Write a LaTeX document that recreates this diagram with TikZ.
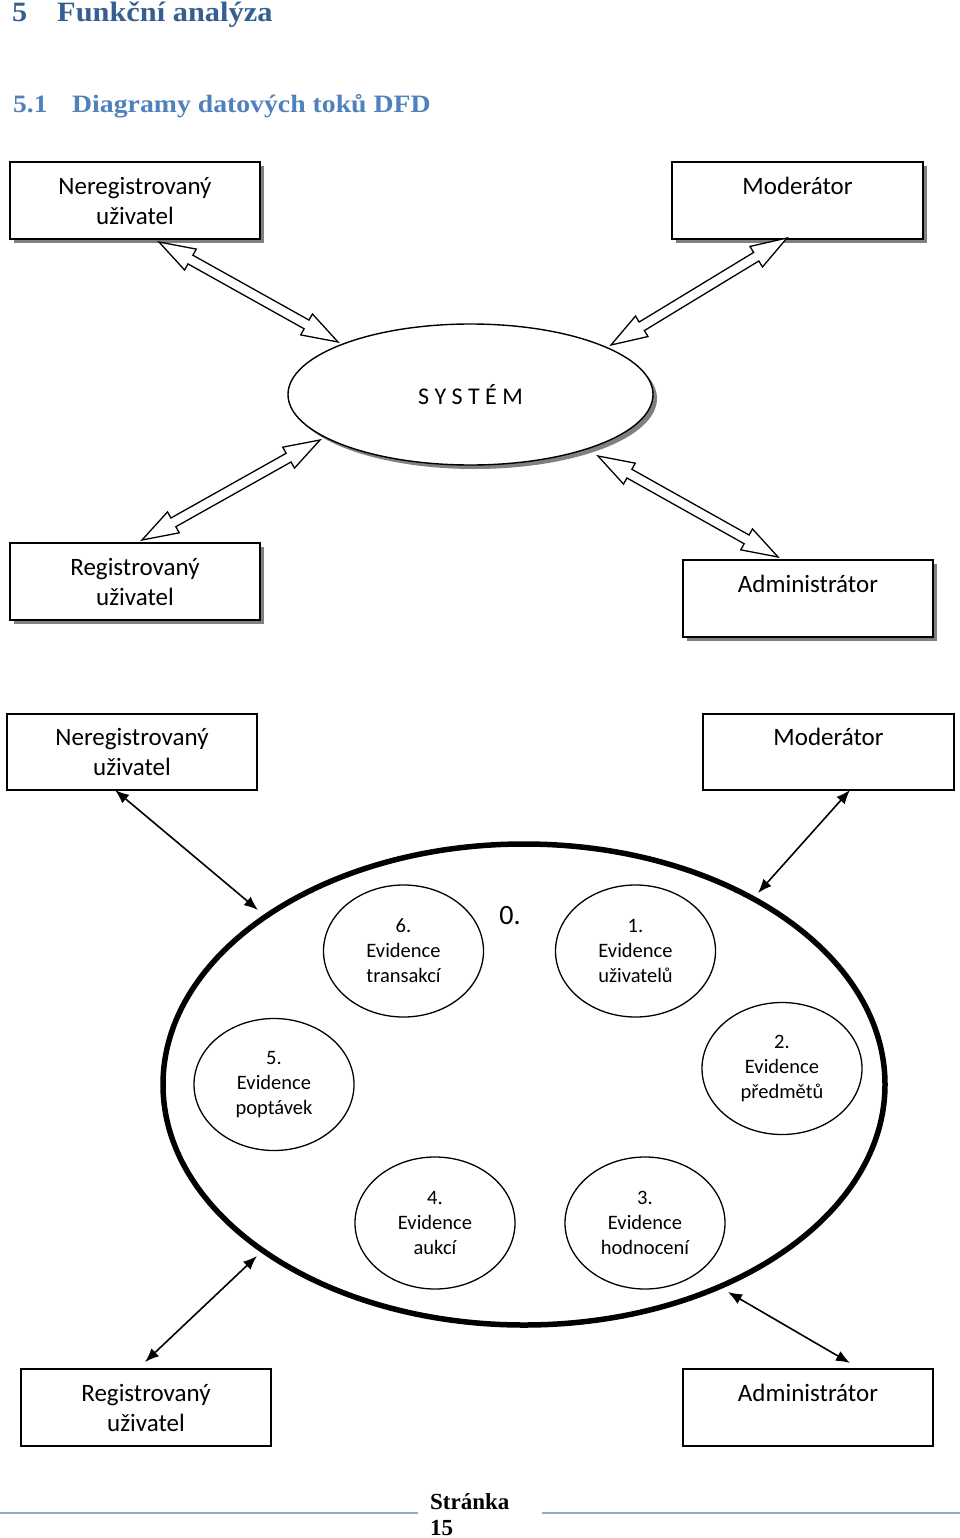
\documentclass[tikz,border=0pt]{standalone}
\usepackage{fontspec}
\setmainfont{Carlito}
\newfontfamily\headfont{Liberation Serif}
\usetikzlibrary{calc,shapes.geometric,shadows,arrows.meta}
\definecolor{hone}{RGB}{54,95,145}
\definecolor{htwo}{RGB}{79,129,189}
\definecolor{footline}{RGB}{150,170,195}
\newcommand\hollowarrow[2]{%
 \draw[line width=1.3pt, fill=white, line join=miter]
  (#1) -- ($(#1)!36pt!(#2)!12pt!90:(#2)$) -- ($(#1)!36pt!(#2)!5pt!90:(#2)$)
  -- ($(#2)!36pt!(#1)!5pt!-90:(#1)$) -- ($(#2)!36pt!(#1)!12pt!-90:(#1)$)
  -- (#2) -- ($(#2)!36pt!(#1)!12pt!90:(#1)$) -- ($(#2)!36pt!(#1)!5pt!90:(#1)$)
  -- ($(#1)!36pt!(#2)!5pt!-90:(#2)$) -- ($(#1)!36pt!(#2)!12pt!-90:(#2)$) -- cycle;}
\begin{document}
\begin{tikzpicture}[x=1pt,y=-1pt,
  ent/.style={draw, line width=1.6pt, fill=white, minimum width=250pt, minimum height=77pt,
    align=center, font=\fontsize{25}{30}\selectfont, inner sep=0pt},
  sh/.style={drop shadow={shadow xshift=4pt, shadow yshift=-4pt, fill=black!55, opacity=0.9}},
  proc/.style={ellipse, draw, line width=1.3pt, minimum width=160pt, minimum height=132pt,
    align=center, font=\fontsize{20.5}{25}\selectfont, inner sep=0pt},
  flow/.style={line width=1.6pt, {Latex[length=14pt,width=11pt]}-{Latex[length=14pt,width=11pt]}},
  head/.style={inner sep=0pt, anchor=base west},
  ]
\useasboundingbox[fill=white] (0,0) rectangle (960,1538);

% headings
\node[head, text=hone, font=\headfont\bfseries\fontsize{28}{30}\selectfont] (h1n) at (12,22) {\scalebox{1.08}[1]{5}};
\node[head, text=hone, font=\headfont\bfseries\fontsize{28}{30}\selectfont] (h1t) at (57,22) {\scalebox{1.085}[1]{Funkční analýza}};
\node[head, text=htwo, font=\headfont\bfseries\fontsize{25}{30}\selectfont] (h2n) at (13,113) {\scalebox{1.1}[1]{5.1}};
\node[head, text=htwo, font=\headfont\bfseries\fontsize{25}{30}\selectfont] (h2t) at (72,113) {\scalebox{1.11}[1]{Diagramy datových toků DFD}};

% ---------- context diagram ----------
\node[ent, sh] (A) at (135,200.5) {Neregistrovaný\\uživatel};
\node[ent, sh, minimum width=251pt] (B) at (797.5,200.5) {Moderátor\\\mbox{}};
\node[ent, sh] (C) at (135,581.5) {Registrovaný\\uživatel};
\node[ent, sh] (D) at (808,598.5) {Administrátor\\\mbox{}};
\node[ellipse, draw, line width=1.4pt, fill=white, sh, minimum width=365pt, minimum height=141pt,
  font=\fontsize{24}{30}\selectfont] (S) at (470.5,394.5) {S Y S T É M};

\coordinate (a1) at (159,242);  \coordinate (a2) at (338,342);
\coordinate (b1) at (787,238);  \coordinate (b2) at (611,345);
\coordinate (c1) at (142,540);  \coordinate (c2) at (320,440);
\coordinate (d1) at (598,456);  \coordinate (d2) at (778,557);
\hollowarrow{a1}{a2}
\hollowarrow{b1}{b2}
\hollowarrow{c1}{c2}
\hollowarrow{d1}{d2}

% ---------- level 0 diagram ----------
\node[ent, line width=1.3pt, minimum height=76pt] (E) at (132,752) {Neregistrovaný\\uživatel};
\node[ent, line width=1.3pt, minimum height=76pt, minimum width=251pt] (F) at (828.5,752) {Moderátor\\\mbox{}};
\node[ent, line width=1.3pt] (G) at (146,1407.5) {Registrovaný\\uživatel};
\node[ent, line width=1.3pt] (H) at (808,1407.5) {Administrátor\\\mbox{}};

\node[ellipse, draw, line width=5.5pt, minimum width=722pt, minimum height=481pt] (Z) at (524,1084.5) {};
\node[font=\fontsize{28}{30}\selectfont, inner sep=0pt] (zero) at (510,916) {0.};

\node[proc] (p6) at (403.5,951) {6.\\Evidence\\transakcí};
\node[proc] (p1) at (635.5,951) {1.\\Evidence\\uživatelů};
\node[proc] (p5) at (274,1084.5) {5.\\Evidence\\poptávek};
\node[proc] (p2) at (782,1068.5) {2.\\Evidence\\předmětů};
\node[proc] (p4) at (435,1223) {4.\\Evidence\\aukcí};
\node[proc] (p3) at (645,1223) {3.\\Evidence\\hodnocení};

\coordinate (e1) at (115,790);  \coordinate (e2) at (258,910);
\coordinate (f1) at (850,790);  \coordinate (f2) at (758,893);
\coordinate (g1) at (257,1256); \coordinate (g2) at (145,1362);
\coordinate (h1) at (728,1292); \coordinate (h2) at (850,1363);
\draw[flow] (e1) -- (e2);
\draw[flow] (f1) -- (f2);
\draw[flow] (g1) -- (g2);
\draw[flow] (h1) -- (h2);

% ---------- footer ----------
\coordinate (fl1) at (0,1513);   \coordinate (fl2) at (418,1513);
\coordinate (fr1) at (542,1513); \coordinate (fr2) at (960,1513);
\draw[footline, line width=1.3pt] (fl1) -- (fl2);
\draw[footline, line width=1.3pt] (fr1) -- (fr2);
\node[head, font=\headfont\bfseries\fontsize{23}{26}\selectfont] (pg1) at (430,1509) {Stránka};
\node[head, font=\headfont\bfseries\fontsize{23}{26}\selectfont] (pg2) at (430,1535) {15};
\end{tikzpicture}
\end{document}
